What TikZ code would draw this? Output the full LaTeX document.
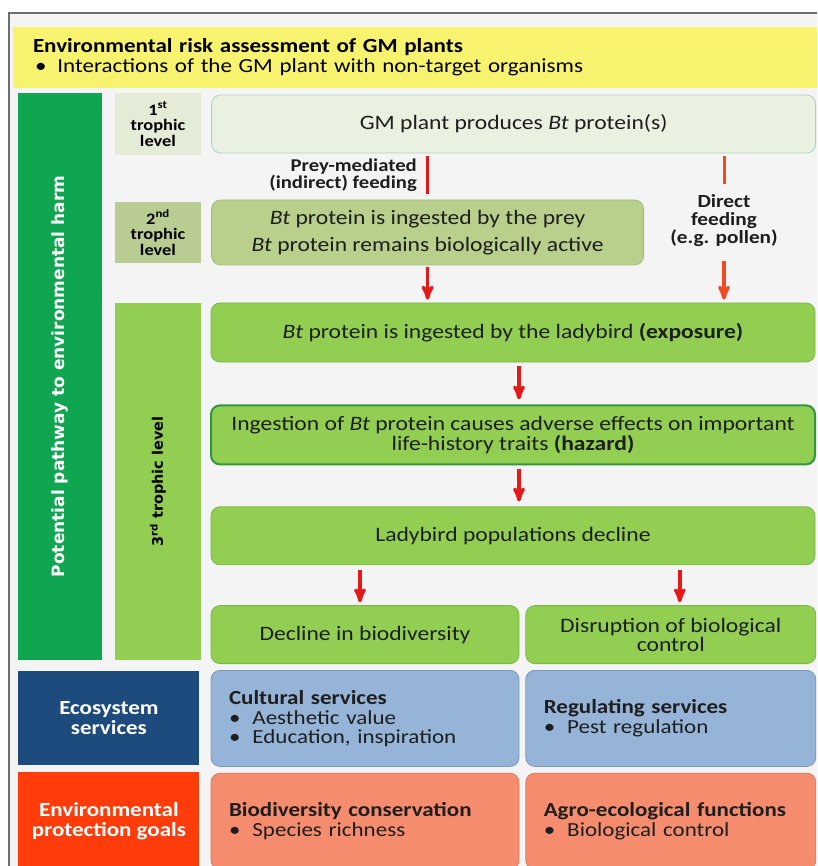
\documentclass[tikz,border=0pt]{standalone}
\usepackage{fontspec}
\setmainfont{Carlito}[FakeStretch=1.15]
\newfontfamily\verdfont{DejaVu Sans}
\usepackage{tikz}
\usetikzlibrary{arrows,positioning}
\definecolor{paper}{RGB}{244,244,244}
\definecolor{framegray}{RGB}{110,110,110}
\definecolor{hdryellow}{RGB}{248,243,110}
\definecolor{pathgreen}{RGB}{16,165,80}
\definecolor{troone}{RGB}{228,236,216}
\definecolor{gmfill}{RGB}{234,241,224}
\definecolor{gmline}{RGB}{170,210,195}
\definecolor{trotwo}{RGB}{185,204,145}
\definecolor{preyfill}{RGB}{185,207,140}
\definecolor{preyline}{RGB}{160,190,120}
\definecolor{litegreen}{RGB}{146,206,82}
\definecolor{greenline}{RGB}{120,185,70}
\definecolor{hazline}{RGB}{50,150,60}
\definecolor{ecoblue}{RGB}{30,75,125}
\definecolor{skyblue}{RGB}{149,180,216}
\definecolor{skyline}{RGB}{120,150,190}
\definecolor{goalred}{RGB}{255,60,10}
\definecolor{salmon}{RGB}{246,140,110}
\definecolor{salmonline}{RGB}{225,120,95}
\definecolor{arrowred}{RGB}{230,25,25}
\definecolor{arroworange}{RGB}{240,75,35}
\definecolor{textgray}{RGB}{30,30,30}
\newcommand{\bul}{\textbullet\hspace{12pt}}
\tikzset{
    %Define standard arrow tip
    >=stealth',
    %Define style for boxes
    hdr/.style={
           rectangle,
           fill=hdryellow,
           inner sep=0pt,
           minimum width=804, minimum height=61,
           text width=764, align=left,
           font=\fontsize{20}{20}\selectfont},
    sidebar/.style={
           rectangle,
           inner sep=0pt,
           align=center,
           text=white,
           font=\verdfont\bfseries\fontsize{17}{17}\selectfont},
    trophic/.style={
           rectangle,
           inner sep=0pt,
           minimum width=86,
           align=center,
           font=\bfseries\fontsize{16}{15.5}\selectfont},
    stepbox/.style={
           rectangle,
           rounded corners=9pt,
           draw=greenline, thick,
           fill=litegreen,
           inner sep=0pt,
           minimum width=604, minimum height=58,
           align=center,
           text=textgray,
           font=\fontsize{20.5}{20}\selectfont},
    halfbox/.style={
           stepbox,
           minimum width=308, minimum height=58},
    listbox/.style={
           halfbox,
           minimum height=96,
           text width=272, align=left,
           font=\fontsize{20}{19}\selectfont},
    rowlabel/.style={
           rectangle,
           inner sep=0pt,
           minimum width=181,
           align=center,
           text=white,
           font=\bfseries\fontsize{20}{20}\selectfont},
    lbl/.style={
           inner sep=0pt,
           text=textgray,
           font=\bfseries\fontsize{18}{17.5}\selectfont},
    % Define arrow style
    arr/.style={
           ->,
           line width=3.4pt,
           draw=arrowred},
    redline/.style={
           line width=3pt,
           draw=arrowred}
}
\begin{document}
\begin{tikzpicture}[x=1pt,y=-1pt,node distance=10pt]
\useasboundingbox (0,0) rectangle (817,866);
\clip (0,0) rectangle (817,866);
\fill[white] (0,0) rectangle (817,866);
\draw[framegray, line width=1.5pt, fill=paper] (9,13) rectangle (840,890);
%header
\node[hdr] (head) at (415,57.5) {{\bfseries Environmental risk assessment of GM plants}\\
  \hspace*{2pt}\textbullet\hspace{11pt}Interactions of the GM plant with non-target organisms};
%left bars
\node[sidebar, fill=pathgreen, rotate=90, minimum width=567, minimum height=84] (path) at (60,376.5)
  {Potential pathway to environmental harm};
\node[trophic, fill=troone, minimum height=62] (tro1) at (158,124) {1\textsuperscript{st}\\trophic\\level};
\node[trophic, fill=trotwo, minimum height=61] (tro2) at (158,232.5) {2\textsuperscript{nd}\\trophic\\level};
\node[sidebar, fill=litegreen, rotate=90, minimum width=357, minimum height=86, text=black,
  font=\verdfont\bfseries\fontsize{14.5}{14.5}\selectfont] (tro3) at (158,481.5) {3\textsuperscript{rd} trophic level};
%pathway boxes
\node[stepbox, right=10pt of tro1, fill=gmfill, draw=gmline] (plant) {GM plant produces \textit{Bt} protein(s)};
\node[stepbox, right=10pt of tro2, fill=preyfill, draw=preyline, minimum width=432, minimum height=65,
  font=\fontsize{20.5}{27}\selectfont] (prey)
  {\textit{Bt} protein is ingested by the prey\\\textit{Bt} protein remains biologically active};
\node[lbl, align=right, anchor=east] (indirect) at (417,175) {Prey-mediated\\(indirect) feeding};
\node[lbl, align=center, font=\bfseries\fontsize{18.5}{18}\selectfont] (direct) at (724,221) {Direct\\feeding\\(e.g. pollen)};
\node[stepbox, minimum height=59] (expo) at (513,332.5) {\textit{Bt} protein is ingested by the ladybird \textbf{(exposure)}};
\node[stepbox, below=42pt of expo, minimum height=59, draw=hazline, line width=2pt] (haz)
  {Ingestion of \textit{Bt} protein causes adverse effects on important\\life-history traits \textbf{(hazard)}};
\node[stepbox, below=41pt of haz] (lady) {Ladybird populations decline};
\node[halfbox, below=40pt of lady.south west, anchor=north west] (decl) {Decline in biodiversity};
\node[halfbox, right=6pt of decl, minimum width=290] (disr)
  {Disruption of biological\\[-1pt]control};
%services and goals
\node[listbox, below=6pt of decl, fill=skyblue, draw=skyline] (cult)
  {{\bfseries Cultural services}\\[1pt]\bul Aesthetic value\\\bul Education, inspiration};
\node[listbox, right=6pt of cult, minimum width=290, text width=254, fill=skyblue, draw=skyline] (regu)
  {{\bfseries Regulating services}\\[1pt]\bul Pest regulation};
\node[listbox, below=6pt of cult, fill=salmon, draw=salmonline] (biod)
  {{\bfseries Biodiversity conservation}\\[1pt]\bul Species richness};
\node[listbox, right=6pt of biod, minimum width=290, text width=254, fill=salmon, draw=salmonline] (agro)
  {{\bfseries Agro-ecological functions}\\[1pt]\bul Biological control};
\node[rowlabel, left=11pt of cult, fill=ecoblue, minimum height=94] (eco) {Ecosystem\\services};
\node[rowlabel, left=11pt of biod, fill=goalred, minimum height=99] (goal) {Environmental\\protection goals};
%connectors
\draw[redline, shorten <=3pt, shorten >=6pt] (plant.south -| prey.north) -- (prey.north);
\draw[arr, shorten <=2pt, shorten >=3pt] (prey.south) -- (prey.south |- expo.north);
\draw[redline, draw=arroworange, shorten <=3pt, shorten >=11pt] (plant.south -| direct.north) -- (direct.north);
\draw[arr, draw=arroworange, shorten <=14pt, shorten >=3pt] (direct.south) -- (direct.south |- expo.north);
\draw[arr, shorten <=4pt, shorten >=5pt] ([xshift=6pt]expo.south) -- ([xshift=6pt]haz.north);
\draw[arr, shorten <=4pt, shorten >=5pt] ([xshift=6pt]haz.south) -- ([xshift=6pt]lady.north);
\draw[arr, shorten <=5pt, shorten >=3pt] ([xshift=-5pt]decl.north |- lady.south) -- ([xshift=-5pt]decl.north);
\draw[arr, shorten <=5pt, shorten >=3pt] ([xshift=9pt]disr.north |- lady.south) -- ([xshift=9pt]disr.north);
\end{tikzpicture}
\end{document}
